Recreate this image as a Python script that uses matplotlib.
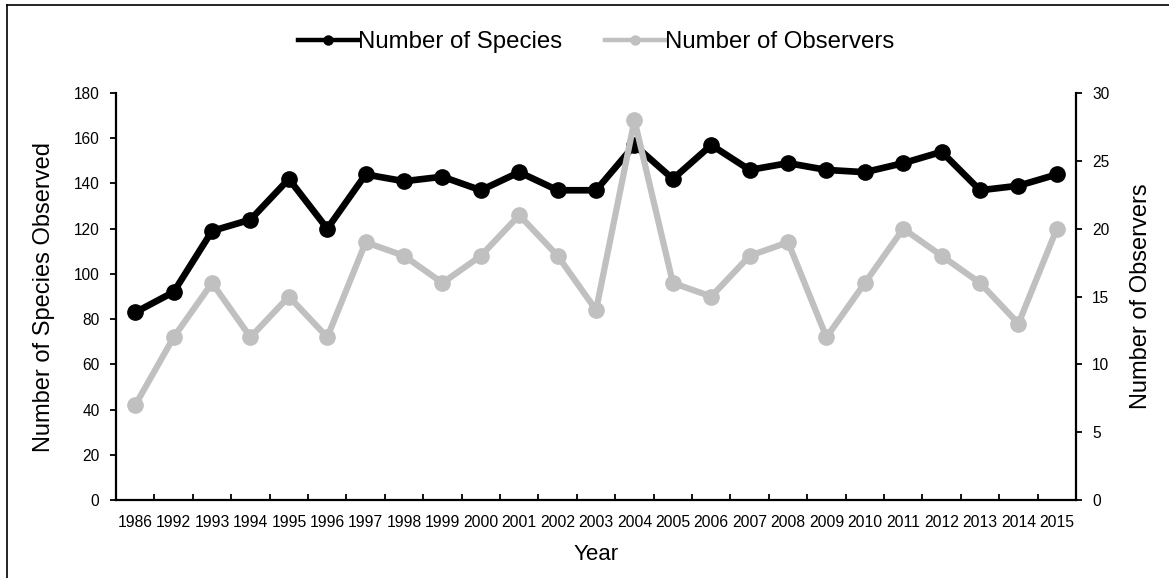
import numpy as np
import matplotlib
matplotlib.use("Agg")
import matplotlib.pyplot as plt
from matplotlib.lines import Line2D

plt.rcParams.update({
    "font.family": ["Liberation Sans", "DejaVu Sans"],
    "font.size": 11,
})

years = ["1986", "1992", "1993", "1994", "1995", "1996", "1997", "1998", "1999",
         "2000", "2001", "2002", "2003", "2004", "2005", "2006", "2007", "2008",
         "2009", "2010", "2011", "2012", "2013", "2014", "2015"]
species = [83, 92, 119, 124, 142, 120, 144, 141, 143, 137, 145, 137, 137, 157,
           142, 157, 146, 149, 146, 145, 149, 154, 137, 139, 144]
observers = [7, 12, 16, 12, 15, 12, 19, 18, 16, 18, 21, 18, 14, 28, 16, 15, 18,
             19, 12, 16, 20, 18, 16, 13, 20]

BLACK = "#000000"
GREY = "#C0C0C0"

fig = plt.figure(figsize=(11.69, 5.78), dpi=100)
ax = fig.add_axes([0.0993, 0.135, 0.8212, 0.704])
ax2 = ax.twinx()   # secondary series drawn on top, as in the original

x = np.arange(len(years))
ax.plot(x, species, color=BLACK, lw=4.8, marker="o", ms=11,
        solid_joinstyle="round", solid_capstyle="round")
ax2.plot(x, observers, color=GREY, lw=4.5, marker="o", ms=11,
         solid_joinstyle="round", solid_capstyle="round")

ax.set_xlim(-0.5, len(years) - 0.5)
ax.set_ylim(0, 180)
ax.set_yticks(np.arange(0, 181, 20))
ax2.set_ylim(0, 30)
ax2.set_yticks(np.arange(0, 31, 5))

ax.set_xticks(x)
ax.set_xticklabels(years, fontsize=11.3)
ax.set_xticks(np.arange(-0.5, len(years), 1), minor=True)
ax.tick_params(axis="x", which="major", length=0, pad=10.5)
ax.tick_params(axis="x", which="minor", direction="in", length=4, width=1.3)
ax.tick_params(axis="y", direction="out", length=4, width=1.3, labelsize=11.2, pad=8)
ax2.tick_params(axis="y", direction="out", length=4, width=1.3, labelsize=11.2, pad=7.5)

for a in (ax, ax2):
    a.spines["top"].set_visible(False)
    for s in ("left", "right", "bottom"):
        a.spines[s].set_linewidth(1.6)
ax.spines["right"].set_visible(False)
ax2.spines["left"].set_visible(False)
ax2.spines["bottom"].set_visible(False)

ax.set_xlabel("Year", fontsize=16)
ax.xaxis.set_label_coords(0.5, -0.108)
ax.set_ylabel("Number of Species Observed", fontsize=17)
ax.yaxis.set_label_coords(-0.0635, 0.5)
ax2.set_ylabel("Number of Observers", fontsize=17, rotation=90)
ax2.yaxis.set_label_coords(1.056, 0.5)

h1 = Line2D([], [], color=BLACK, lw=3.2, marker="o", ms=6.5)
h2 = Line2D([], [], color=GREY, lw=3.2, marker="o", ms=6.5)
fig.legend([h1, h2], ["Number of Species", "Number of Observers"],
           loc="center", bbox_to_anchor=(0.510, 0.927), ncol=2, frameon=False,
           fontsize=17.3, handlelength=2.5, handletextpad=0.0, columnspacing=1.8)

# outer border (left and top edges of the chart frame)
fig.add_artist(Line2D([7 / 1169, 7 / 1169], [0, 1 - 5 / 578], color="k", lw=1.2,
                      transform=fig.transFigure))
fig.add_artist(Line2D([7 / 1169, 1], [1 - 5 / 578, 1 - 5 / 578], color="k", lw=1.2,
                      transform=fig.transFigure))

fig.savefig("out.png", dpi=100)
